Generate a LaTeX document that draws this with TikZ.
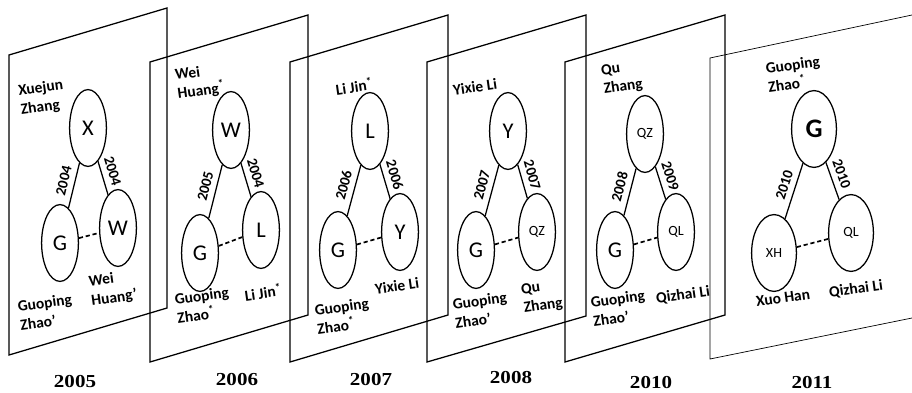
\documentclass[tikz,border=0pt]{standalone}
\usepackage{fontspec}
\setmainfont{Carlito}
\newfontfamily\yearfont{Liberation Serif}
\usetikzlibrary{shapes.geometric}

\begin{document}
\begin{tikzpicture}[x=0.025cm, y=-0.025cm,
			person/.style={draw, ellipse, inner sep=0pt, minimum width=0.92cm, minimum height=1.92cm, line width=0.9pt, font=\fontsize{16}{16}\selectfont},
			smallid/.style={font=\fontsize{10}{10}\selectfont},
			sheet/.style={line width=0.9pt},
			who/.style={align=left, rotate=8, inner sep=0pt, font=\fontsize{11}{13.5}\selectfont\bfseries},
			yr/.style={inner sep=0pt, xscale=1.15, font=\fontsize{13}{13}\selectfont\yearfont\bfseries},
			tie/.style={line width=0.9pt},
			cotie/.style={line width=1.2pt, dash pattern=on 3pt off 2pt},
			yearof/.style={sloped, above, inner sep=4pt, font=\fontsize{10.5}{10.5}\selectfont\bfseries}
		]
		\useasboundingbox (0,0) rectangle (912,393);

		\draw[sheet] (9,55) -- (167,8) -- (167,308) -- (9,355) -- cycle;
		\draw[sheet] (150,62) -- (308,15) -- (308,315) -- (150,362) -- cycle;
		\draw[sheet] (290,62) -- (448,15) -- (448,315) -- (290,362) -- cycle;
		\draw[sheet] (427,62) -- (586,15) -- (586,316) -- (427,362) -- cycle;
		\draw[sheet] (565,62) -- (725,15) -- (725,315) -- (565,362) -- cycle;
		\draw[sheet, line width=0.5pt] (912,15) -- (710,58) -- (710,359) -- (912,318);

		\node[person] (X1) at (88,128) {X};
		\node[person] (G1) at (60,243) {G};
		\node[person] (W1) at (118,228) {W};
		\draw[tie] (G1) -- node[yearof, pos=0.55] {2004} (X1);
		\draw[tie] (X1) -- node[yearof, pos=0.4] {2004} (W1);
		\draw[cotie] (G1) -- (W1);
		\node[who] (nX1) at (42,98) {Xuejun\\Zhang};
		\node[who] (nG1) at (46,312) {Guoping\\Zhao'};
		\node[who] (nW1) at (113,289) {Wei\\Huang'};
		\node[yr] (y2005) at (75,382) {2005};

		\node[person] (W2) at (231,130) {W};
		\node[person] (G2) at (200,253) {G};
		\node[person] (L2) at (261,230) {L};
		\draw[tie] (G2) -- node[yearof, pos=0.55] {2005} (W2);
		\draw[tie] (W2) -- node[yearof, pos=0.4] {2004} (L2);
		\draw[cotie] (G2) -- (L2);
		\node[who] (nW2) at (200,82) {Wei\\Huang\textsuperscript{*}};
		\node[who] (nG2) at (203,305) {Guoping\\Zhao\textsuperscript{*}};
		\node[who] (nL2) at (263,292) {Li Jin\textsuperscript{*}};
		\node[yr] (y2006) at (237,380) {2006};

		\node[person] (L3) at (370,131) {L};
		\node[person] (G3) at (338,250) {G};
		\node[person] (Y3) at (400,232) {Y};
		\draw[tie] (G3) -- node[yearof, pos=0.55] {2006} (L3);
		\draw[tie] (L3) -- node[yearof, pos=0.4] {2006} (Y3);
		\draw[cotie] (G3) -- (Y3);
		\node[who] (nL3) at (354,86) {Li Jin\textsuperscript{*}};
		\node[who] (nY3) at (397,286) {Yixie Li};
		\node[who] (nG3) at (343,316) {Guoping\\Zhao\textsuperscript{*}};
		\node[yr] (y2007) at (371,380) {2007};

		\node[person] (Y4) at (508,131) {Y};
		\node[person] (G4) at (476,250) {G};
		\node[person, smallid] (QZ4) at (537,232) {QZ};
		\draw[tie] (G4) -- node[yearof, pos=0.55] {2007} (Y4);
		\draw[tie] (Y4) -- node[yearof, pos=0.4] {2007} (QZ4);
		\draw[cotie] (G4) -- (QZ4);
		\node[who] (nY4) at (475,87) {Yixie Li};
		\node[who] (nG4) at (481,310) {Guoping\\Zhao'};
		\node[who] (nQZ4) at (542,297) {Qu\\Zhang};
		\node[yr] (y2008) at (511,378) {2008};

		\node[person, smallid] (QZ5) at (645,134) {QZ};
		\node[person] (G5) at (615,250) {G};
		\node[person, smallid] (QL5) at (676,232) {QL};
		\draw[tie] (G5) -- node[yearof, pos=0.55] {2008} (QZ5);
		\draw[tie] (QZ5) -- node[yearof, pos=0.4] {2009} (QL5);
		\draw[cotie] (G5) -- (QL5);
		\node[who] (nQZ5) at (622,78) {Qu\\Zhang};
		\node[who] (nG5) at (619,308) {Guoping\\Zhao'};
		\node[who] (nQL5) at (683,295) {Qizhai Li};
		\node[yr] (y2010) at (651,383) {2010};

		\node[person, minimum width=1.12cm, font=\fontsize{19}{19}\selectfont\bfseries] (G6) at (814,129) {G};
		\node[person, smallid, minimum width=1.12cm] (XH6) at (774,253) {XH};
		\node[person, smallid, minimum width=1.12cm] (QL6) at (851,233) {QL};
		\draw[tie] (XH6) -- node[yearof, pos=0.55] {2010} (G6);
		\draw[tie] (G6) -- node[yearof, pos=0.4] {2010} (QL6);
		\draw[cotie] (XH6) -- (QL6);
		\node[who] (nG6) at (794,74) {Guoping\\Zhao\textsuperscript{*}};
		\node[who] (nXH6) at (783,298) {Xuo Han};
		\node[who] (nQL6) at (856,289) {Qizhai Li};
		\node[yr] (y2011) at (812,383) {2011};

	\end{tikzpicture}
\end{document}
